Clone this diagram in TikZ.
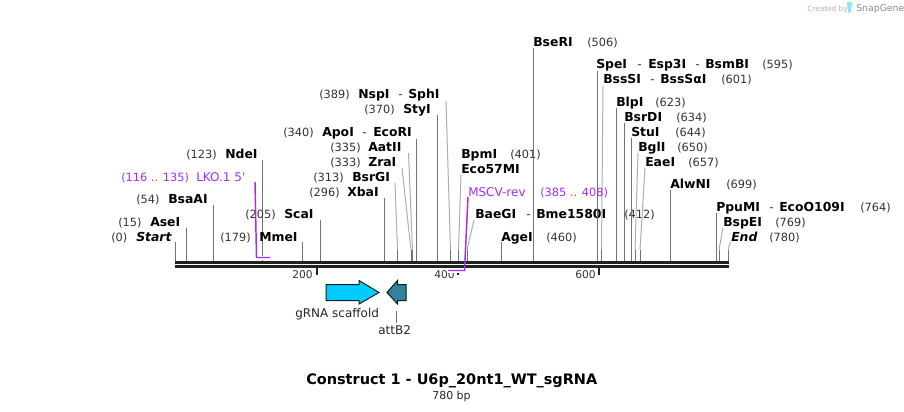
\documentclass[tikz,border=0pt]{standalone}
\usepackage{xcolor}
\usepackage{fontspec}
\setmainfont{DejaVu Sans}
\usepackage{tikz}
\usetikzlibrary{positioning}

\definecolor{primerpurple}{HTML}{A52CF5}
\definecolor{scaffoldblue}{HTML}{00CCFF}
\definecolor{attteal}{HTML}{33809F}
\definecolor{backbonegray}{HTML}{222222}

\tikzset{
    lbl/.style={anchor=west, inner sep=0pt, yshift=-1.1pt, text height=6.5pt, text depth=1.5pt, font=\fontsize{9}{11}\selectfont},
    enz/.style={lbl, text=black, font=\fontsize{9.3}{11}\selectfont\bfseries},
    enzend/.style={lbl, text=black, font=\fontsize{9.3}{11}\selectfont\bfseries\itshape},
    sitepos/.style={lbl, text=black!80, font=\fontsize{8.5}{11}\selectfont},
    dashsep/.style={lbl, text=black!80},
    primertxt/.style={lbl, text=primerpurple},
    primerpos/.style={primertxt, font=\fontsize{8.5}{11}\selectfont},
    ticktxt/.style={lbl, text=black!80, font=\fontsize{8}{11}\selectfont},
    cutline/.style={draw=black!55, line width=0.75pt},
    slantcut/.style={draw=black!32, line width=0.75pt},
    primerline/.style={draw=primerpurple, line width=1.1pt},
    halo/.style={draw=white, line width=3pt},
    bandline/.style={draw=backbonegray, line width=2.25pt},
    tickline/.style={draw=backbonegray, line width=1.5pt},
    featarrow/.style={draw=black!75!teal, line width=0.75pt, line join=miter}
}

\begin{document}
\begin{tikzpicture}[x=0.75pt, y=-0.75pt]
    \useasboundingbox (0,0) rectangle (904,411);

    % backbone
    \coordinate (bbleft) at (175,262.5);
    \coordinate (bbright) at (729,262.5);
    \coordinate (bbleftlow) at (175,266.5);
    \coordinate (bbrightlow) at (729,266.5);

    % ticks
    \node [ticktxt] (tick200) at (292,274) {200};
    \node [ticktxt] (tick400) at (434,274) {400};
    \node [ticktxt] (tick600) at (575,274) {600};
    \coordinate (t200a) at (316.5,268);
    \coordinate (t200b) at (316.5,275);
    \coordinate (t400a) at (457.7,271);
    \coordinate (t400b) at (457.7,275);
    \coordinate (t600a) at (599,268);
    \coordinate (t600b) at (599,275);
    \draw [tickline] (t200a) -- (t200b);
    \draw [tickline] (t400a) -- (t400b);
    \draw [tickline] (t600a) -- (t600b);

    % left side sites
    \node [sitepos] (startpos) at (111,237) {(0)};
    \node [enzend] (start) at (136,237) {Start};
    \coordinate (starttop) at (175.5,242);
    \coordinate (startcut) at (175.5,262);
    \draw [cutline] (starttop) -- (startcut);

    \node [sitepos] (asepos) at (118,222) {(15)};
    \node [enz] (ase) at (150,222) {AseI};
    \coordinate (asetop) at (186.5,228);
    \coordinate (asecut) at (186.5,262);
    \draw [cutline] (asetop) -- (asecut);

    \node [sitepos] (bsaapos) at (136,199) {(54)};
    \node [enz] (bsaa) at (168,199) {BsaAI};
    \coordinate (bsaatop) at (213.5,205);
    \coordinate (bsaacut) at (213.5,262);
    \draw [cutline] (bsaatop) -- (bsaacut);

    \node [sitepos] (ndepos) at (186,154) {(123)};
    \node [enz] (nde) at (225,154) {NdeI};
    \coordinate (ndetop) at (262.5,160);
    \coordinate (ndecut) at (262.5,262);
    \draw [cutline] (ndetop) -- (ndecut);

    \node [sitepos] (mmepos) at (220,237) {(179)};
    \node [enz] (mme) at (259,237) {MmeI};
    \coordinate (mmetop) at (302.5,242);
    \coordinate (mmecut) at (302.5,262);
    \draw [cutline] (mmetop) -- (mmecut);

    \node [sitepos] (scapos) at (245,214) {(205)};
    \node [enz] (sca) at (284,214) {ScaI};
    \coordinate (scatop) at (320.5,220);
    \coordinate (scacut) at (320.5,262);
    \draw [cutline] (scatop) -- (scacut);

    \node [sitepos] (xbapos) at (309,192) {(296)};
    \node [enz] (xba) at (347,192) {XbaI};
    \coordinate (xbatop) at (384.5,198);
    \coordinate (xbacut) at (384.5,262);
    \draw [cutline] (xbatop) -- (xbacut);

    \node [sitepos] (bsrgpos) at (313,177) {(313)};
    \node [enz] (bsrg) at (352,177) {BsrGI};
    \coordinate (bsrgtop) at (395,183);
    \coordinate (bsrgbend) at (397.5,250);
    \coordinate (bsrgcut) at (397.5,262);
    \draw [slantcut] (bsrgtop) -- (bsrgbend);
    \draw [cutline] (bsrgbend) -- (bsrgcut);

    \node [sitepos] (zrapos) at (330,162) {(333)};
    \node [enz] (zra) at (368,162) {ZraI};
    \coordinate (zratop) at (402,168);
    \coordinate (zrabend) at (411,250);
    \coordinate (zracut) at (411,262);
    \draw [slantcut] (zratop) -- (zrabend);
    \draw [cutline] (zrabend) -- (zracut);

    \node [sitepos] (aatpos) at (330,147) {(335)};
    \node [enz] (aat) at (368,147) {AatII};
    \coordinate (aattop) at (408.5,153);
    \coordinate (aatbend) at (412.5,250);
    \coordinate (aatcut) at (412.5,262);
    \draw [slantcut] (aattop) -- (aatbend);
    \draw [cutline] (aatbend) -- (aatcut);

    \node [sitepos] (apopos) at (283,132) {(340)};
    \node [enz] (apo) at (322,132) {ApoI};
    \node [dashsep] (aposep) at (362,132) {-};
    \node [enz] (ecor) at (373,132) {EcoRI};
    \coordinate (apotop) at (416.5,139);
    \coordinate (apocut) at (416.5,262);
    \draw [cutline] (apotop) -- (apocut);

    \node [sitepos] (stypos) at (364,109) {(370)};
    \node [enz] (sty) at (403,109) {StyI};
    \coordinate (stytop) at (437.5,115);
    \coordinate (stycut) at (437.5,262);
    \draw [cutline] (stytop) -- (stycut);

    \node [sitepos] (nsppos) at (319,94) {(389)};
    \node [enz] (nsp) at (358,94) {NspI};
    \node [dashsep] (nspsep) at (398,94) {-};
    \node [enz] (sph) at (408,94) {SphI};
    \coordinate (nsptop) at (446,101);
    \coordinate (nspbend) at (450.5,250);
    \coordinate (nspcut) at (450.5,262);
    \draw [slantcut] (nsptop) -- (nspbend);
    \draw [cutline] (nspbend) -- (nspcut);

    % middle sites
    \node [enz] (bpm) at (461,154) {BpmI};
    \node [sitepos] (bpmpos) at (510,154) {(401)};
    \node [enz] (eco57) at (461,169) {Eco57MI};
    \coordinate (bpmtop) at (461,175);
    \coordinate (bpmbend) at (458.5,250);
    \coordinate (bpmcut) at (458.5,262);
    \draw [slantcut] (bpmtop) -- (bpmbend);
    \draw [cutline] (bpmbend) -- (bpmcut);

    \node [enz] (baeg) at (475,214) {BaeGI};
    \node [dashsep] (baesep) at (526,214) {-};
    \node [enz] (bme) at (536,214) {Bme1580I};
    \node [sitepos] (baepos) at (624,214) {(412)};
    \coordinate (baetop) at (474,220);
    \coordinate (baebend) at (467,250);
    \coordinate (baecut) at (467,262);
    \draw [slantcut] (baetop) -- (baebend);
    \draw [cutline] (baebend) -- (baecut);

    \node [enz] (age) at (501,237) {AgeI};
    \node [sitepos] (agepos) at (546,237) {(460)};
    \coordinate (agetop) at (501.5,242);
    \coordinate (agecut) at (501.5,262);
    \draw [cutline] (agetop) -- (agecut);

    \node [enz] (bser) at (533,42) {BseRI};
    \node [sitepos] (bserpos) at (587,42) {(506)};
    \coordinate (bsertop) at (533.5,48);
    \coordinate (bsercut) at (533.5,262);
    \draw [cutline] (bsertop) -- (bsercut);

    % right side sites
    \node [enz] (spe) at (596,64) {SpeI};
    \node [dashsep] (spesep) at (637,64) {-};
    \node [enz] (esp) at (648,64) {Esp3I};
    \node [dashsep] (espsep) at (695,64) {-};
    \node [enz] (bsmb) at (705,64) {BsmBI};
    \node [sitepos] (spepos) at (762,64) {(595)};
    \coordinate (spetop) at (597.5,71);
    \coordinate (specut) at (597.5,262);
    \draw [cutline] (spetop) -- (specut);

    \node [enz] (bsss) at (603,79) {BssSI};
    \node [dashsep] (bssep) at (650,79) {-};
    \node [enz] (bsssa) at (660,79) {BssSαI};
    \node [sitepos] (bsspos) at (721,79) {(601)};
    \coordinate (bsstop) at (603,86);
    \coordinate (bssbend) at (601.5,250);
    \coordinate (bsscut) at (601.5,262);
    \draw [slantcut] (bsstop) -- (bssbend);
    \draw [cutline] (bssbend) -- (bsscut);

    \node [enz] (blp) at (616,102) {BlpI};
    \node [sitepos] (blppos) at (655,102) {(623)};
    \coordinate (blptop) at (616.5,108);
    \coordinate (blpcut) at (616.5,262);
    \draw [cutline] (blptop) -- (blpcut);

    \node [enz] (bsrd) at (624,117) {BsrDI};
    \node [sitepos] (bsrdpos) at (676,117) {(634)};
    \coordinate (bsrdtop) at (624.5,123);
    \coordinate (bsrdcut) at (624.5,262);
    \draw [cutline] (bsrdtop) -- (bsrdcut);

    \node [enz] (stu) at (631,132) {StuI};
    \node [sitepos] (stupos) at (675,132) {(644)};
    \coordinate (stutop) at (631.5,138);
    \coordinate (stucut) at (631.5,262);
    \draw [cutline] (stutop) -- (stucut);

    \node [enz] (bgl) at (638,147) {BglI};
    \node [sitepos] (bglpos) at (677,147) {(650)};
    \coordinate (bgltop) at (638,153);
    \coordinate (bglbend) at (635,250);
    \coordinate (bglcut) at (635,262);
    \draw [slantcut] (bgltop) -- (bglbend);
    \draw [cutline] (bglbend) -- (bglcut);

    \node [enz] (eae) at (645,162) {EaeI};
    \node [sitepos] (eaepos) at (688,162) {(657)};
    \coordinate (eaetop) at (645,168);
    \coordinate (eaebend) at (640,250);
    \coordinate (eaecut) at (640,262);
    \draw [slantcut] (eaetop) -- (eaebend);
    \draw [cutline] (eaebend) -- (eaecut);

    \node [enz] (alwn) at (670,184) {AlwNI};
    \node [sitepos] (alwnpos) at (726,184) {(699)};
    \coordinate (alwntop) at (670.5,190);
    \coordinate (alwncut) at (670.5,262);
    \draw [cutline] (alwntop) -- (alwncut);

    \node [enz] (ppum) at (716,207) {PpuMI};
    \node [dashsep] (ppusep) at (769,207) {-};
    \node [enz] (ecoo) at (779,207) {EcoO109I};
    \node [sitepos] (ppupos) at (860,207) {(764)};
    \coordinate (pputop) at (716.5,213);
    \coordinate (ppucut) at (716.5,262);
    \draw [cutline] (pputop) -- (ppucut);

    \node [enz] (bspe) at (723,222) {BspEI};
    \node [sitepos] (bspepos) at (775,222) {(769)};
    \coordinate (bspetop) at (723,228);
    \coordinate (bspebend) at (719,250);
    \coordinate (bspecut) at (719,262);
    \draw [slantcut] (bspetop) -- (bspebend);
    \draw [cutline] (bspebend) -- (bspecut);

    \node [enzend] (endsite) at (731,237) {End};
    \node [sitepos] (endpos) at (769,237) {(780)};
    \coordinate (endtop) at (730.5,242);
    \coordinate (endbend) at (728,250);
    \coordinate (endcut) at (728,262);
    \draw [slantcut] (endtop) -- (endbend);
    \draw [cutline] (endbend) -- (endcut);

    % primers
    \node [primerpos] (lkopos) at (121,177) {(116 .. 135)};
    \node [primertxt] (lko) at (196,177) {LKO.1 5\textquotesingle};
    \coordinate (lkotop) at (255,182);
    \coordinate (lkobend) at (256.5,257.5);
    \coordinate (lkoend) at (270,257.5);
    \draw [halo] (lkobend) -- (lkoend);
    \draw [primerline] (lkotop) -- (lkobend) -- (lkoend);

    \node [primertxt] (mscv) at (468,192) {MSCV-rev};
    \node [primerpos] (mscvpos) at (540,192) {(385 .. 408)};
    \coordinate (mscvtop) at (468,197);
    \coordinate (mscvbend) at (464.5,270.5);
    \coordinate (mscvend) at (448,270.5);

    % backbone drawn over the cut lines
    \draw [bandline] (bbleft) -- (bbright);
    \draw [bandline] (bbleftlow) -- (bbrightlow);
    \draw [halo] (mscvbend) -- (mscvend);
    \draw [primerline] (mscvtop) -- (mscvbend) -- (mscvend);

    % features
    \coordinate (scaffa) at (326,284.5);
    \coordinate (scaffb) at (359,284.5);
    \coordinate (scaffc) at (359,280.5);
    \coordinate (scafftip) at (379,292.5);
    \coordinate (scaffd) at (359,304);
    \coordinate (scaffe) at (359,300.5);
    \coordinate (scafff) at (326,300.5);
    \draw [featarrow, fill=scaffoldblue] (scaffa) -- (scaffb) -- (scaffc) -- (scafftip) -- (scaffd) -- (scaffe) -- (scafff) -- cycle;
    \node [lbl, text=black!85] (scafflbl) at (295,313) {gRNA scaffold};

    \coordinate (attba) at (406,284.5);
    \coordinate (attbb) at (397.5,284.5);
    \coordinate (attbc) at (397.5,280.5);
    \coordinate (attbtip) at (387,292.5);
    \coordinate (attbd) at (397.5,304);
    \coordinate (attbe) at (397.5,300.5);
    \coordinate (attbf) at (406,300.5);
    \draw [featarrow, fill=attteal] (attba) -- (attbb) -- (attbc) -- (attbtip) -- (attbd) -- (attbe) -- (attbf) -- cycle;
    \node [lbl, text=black!85] (attblbl) at (378,330) {attB2};
    \coordinate (attblead) at (396.5,311);
    \coordinate (attbleadend) at (396.5,323);
    \draw [cutline] (attblead) -- (attbleadend);

    % title
    \node [lbl, text=black, font=\fontsize{10.85}{13}\selectfont\bfseries] (title) at (306,380) {Construct 1 - U6p\_20nt1\_WT\_sgRNA};
    \node [lbl, text=black!85, font=\fontsize{8.25}{10}\selectfont] (length) at (432,395) {780 bp};

    % credit
    \node [lbl, text=black!30, font=\fontsize{5.5}{7}\selectfont] (created) at (807,7) {Created by};
    \node [lbl, text=black!45, font=\fontsize{7}{8}\selectfont] (snapgene) at (856,7) {SnapGene};
    \fill [scaffoldblue!45] (847,2) -- (852,2) .. controls (854,4) and (852,6) .. (851,7) -- (851,12) -- (848,13) -- cycle;
\end{tikzpicture}
\end{document}
